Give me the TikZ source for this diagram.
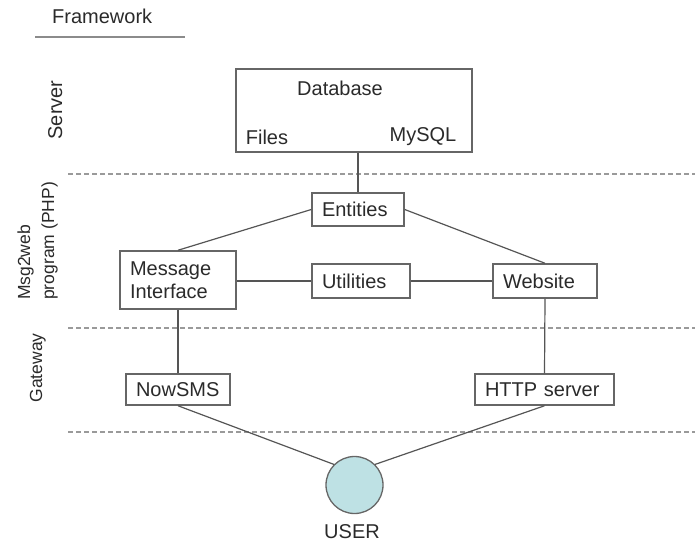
\documentclass[tikz,border=0pt]{standalone}
\usepackage{fontspec}
\setmainfont{Liberation Sans}
\definecolor{txt}{HTML}{2A2A2A}
\definecolor{boxgray}{HTML}{666666}
\definecolor{linegray}{HTML}{555555}
\definecolor{dashgray}{HTML}{9A9A9A}
\definecolor{userfill}{HTML}{BEE1E4}
\tikzset{
  box/.style={draw=boxgray, line width=1.5pt, inner xsep=10pt, inner ysep=0pt,
    align=left, anchor=center, text=txt, font=\fontsize{20}{23.5}\selectfont},
  lbl/.style={inner sep=0pt, text=txt, font=\fontsize{20}{23.5}\selectfont},
  side/.style={inner sep=0pt, text=txt, rotate=90, anchor=base west, font=\fontsize{17.5}{20}\selectfont},
  conn/.style={draw=linegray, line width=1.2pt},
  sep/.style={draw=dashgray, line width=1.6pt, dash pattern=on 5pt off 3pt}
}
\begin{document}
\begin{tikzpicture}[x=1pt,y=-1pt]
\useasboundingbox (0,0) rectangle (695,544);
% title
\node[lbl, anchor=base west] (fw) at (52,23) {Framework};
\coordinate (ulA) at (35,37);
\coordinate (ulB) at (185,37);
\draw[draw=dashgray!90!black, line width=2.2pt] (ulA) -- (ulB);
% separators
\coordinate (s1a) at (68,174); \coordinate (s1b) at (695,174);
\coordinate (s2a) at (68,328); \coordinate (s2b) at (695,328);
\coordinate (s3a) at (68,432); \coordinate (s3b) at (695,432);
\draw[sep] (s1a) -- (s1b);
\draw[sep] (s2a) -- (s2b);
\draw[sep] (s3a) -- (s3b);
% side labels
\node[lbl, rotate=90, anchor=base] (server) at (62,110) {Server};
\node[side] (msg) at (30,300) {Msg2web};
\node[side] (prog) at (54,300) {program (PHP)};
\node[side, anchor=base] (gate) at (42,368) {Gateway};
% boxes
\node[box, text width=216pt, minimum height=83pt] (db) at (354,110.5) {};
\node[lbl] (dbt) at (340,88) {Database};
\node[lbl] (files) at (267,137) {Files};
\node[lbl] (mysql) at (423,137) {MySQL};
\node[box, text width=72pt, minimum height=33pt] (ent) at (358,209.5) {Entities};
\node[box, text width=96pt, minimum height=58pt] (mi) at (178,280) {Message\\Interface};
\node[box, text width=78pt, minimum height=34pt] (util) at (361,281) {Utilities};
\node[box, text width=84pt, minimum height=34pt] (web) at (545,281) {Website};
\node[box, text width=84pt, minimum height=31pt] (now) at (178,389.5) {NowSMS};
\node[box, text width=119pt, minimum height=31pt] (http) at (544.5,389.5) {HTTP server};
\node[circle, draw=boxgray, line width=1.3pt, fill=userfill, minimum size=57pt, inner sep=0pt] (user) at (354.5,485) {};
\node[lbl] (ulabel) at (352,532) {USER};
% connectors
\draw[conn] (ent.north |- db.south) -- (ent.north);
\draw[conn] (ent.west) -- (mi.north);
\draw[conn] (ent.east) -- (web.north);
\draw[conn] (mi.east |- util.west) -- (util.west);
\draw[conn] (util.east) -- (web.west);
\draw[conn] (mi.south) -- (now.north);
\draw[conn] (web.south) -- (http.north);
\draw[conn] (now.south) -- (user.135);
\draw[conn] (http.south) -- (user.45);
\end{tikzpicture}
\end{document}
